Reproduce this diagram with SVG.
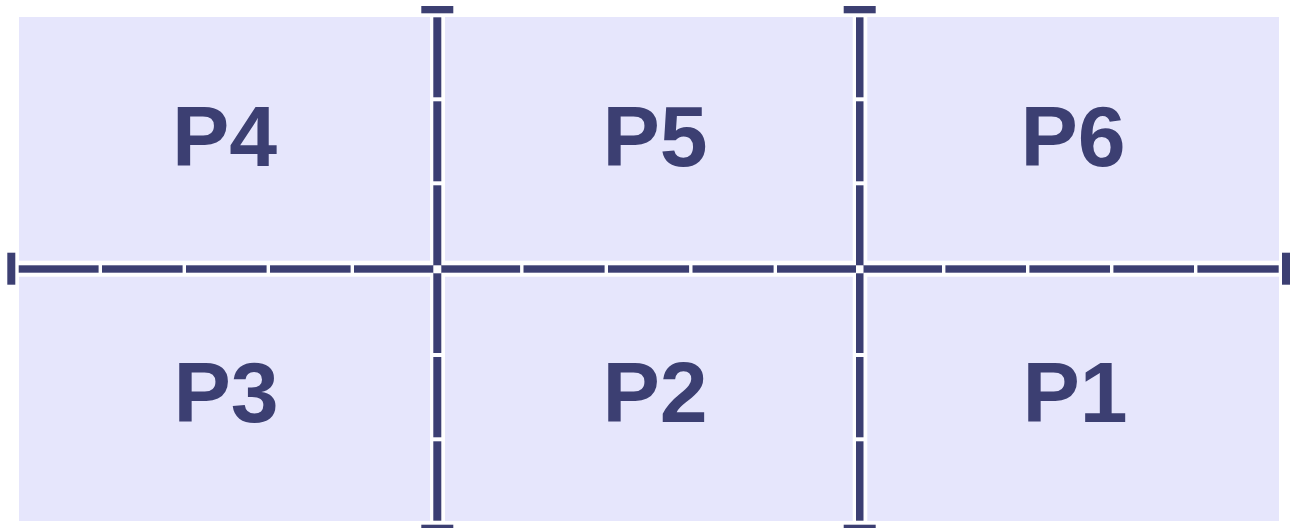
<svg xmlns="http://www.w3.org/2000/svg" width="1291" height="528" viewBox="0 0 1291 528">
<style>
.panel{fill:#E6E6FC}
.lbl{font-family:"Liberation Sans",Arial,sans-serif;font-weight:bold;font-size:86px;fill:#3C3F72;text-anchor:middle}
.ln{fill:#3C3F72}
.gap{fill:#FFFFFF}
</style>
<rect width="1291" height="528" fill="#FFFFFF"/>
<g id="P4"><rect class="panel" x="19" y="17" width="411" height="243.7"/><text class="lbl" x="224.5" y="166">P4</text></g>
<g id="P5"><rect class="panel" x="445" y="17" width="407.7" height="243.7"/><text class="lbl" x="655" y="166">P5</text></g>
<g id="P6"><rect class="panel" x="867.3" y="17" width="411.7" height="243.7"/><text class="lbl" x="1073" y="166">P6</text></g>
<g id="P3"><rect class="panel" x="19" y="276.7" width="411" height="244.3"/><text class="lbl" x="226" y="422">P3</text></g>
<g id="P2"><rect class="panel" x="445" y="276.7" width="407.7" height="244.3"/><text class="lbl" x="655" y="422">P2</text></g>
<g id="P1"><rect class="panel" x="867.3" y="276.7" width="411.7" height="244.3"/><text class="lbl" x="1075" y="422">P1</text></g>
<g id="connectors">
<rect class="ln" x="18.7" y="265.3" width="1260" height="7.4"/>
<rect class="ln" x="433.3" y="17.3" width="8" height="503.4"/>
<rect class="ln" x="856" y="17.3" width="7.5" height="503.4"/>
<rect class="ln" x="421.3" y="6" width="32" height="7.3"/>
<rect class="ln" x="843.7" y="6" width="32" height="7.3"/>
<rect class="ln" x="421.3" y="524.7" width="32" height="7.3"/>
<rect class="ln" x="843.7" y="524.7" width="32" height="7.3"/>
<rect class="ln" x="7.3" y="252.7" width="8" height="32"/>
<rect class="ln" x="1282" y="252.7" width="8" height="32"/>
<g class="gap">
<rect x="98.6" y="264" width="3.4" height="10"/>
<rect x="182.6" y="264" width="3.4" height="10"/>
<rect x="266.6" y="264" width="3.4" height="10"/>
<rect x="350.6" y="264" width="3.4" height="10"/>
<rect x="520.1" y="264" width="3.4" height="10"/>
<rect x="604.6" y="264" width="3.4" height="10"/>
<rect x="689.1" y="264" width="3.4" height="10"/>
<rect x="773.6" y="264" width="3.4" height="10"/>
<rect x="942" y="264" width="3.4" height="10"/>
<rect x="1026" y="264" width="3.4" height="10"/>
<rect x="1110" y="264" width="3.4" height="10"/>
<rect x="1194" y="264" width="3.4" height="10"/>
<rect x="433.3" y="265.3" width="8" height="8"/>
<rect x="856" y="265.3" width="7.5" height="8"/>
<rect x="432" y="97.3" width="11" height="4"/>
<rect x="432" y="181.3" width="11" height="4"/>
<rect x="432" y="353" width="11" height="4"/>
<rect x="432" y="437.3" width="11" height="4"/>
<rect x="854.5" y="97.3" width="11" height="4"/>
<rect x="854.5" y="181.3" width="11" height="4"/>
<rect x="854.5" y="353" width="11" height="4"/>
<rect x="854.5" y="437.3" width="11" height="4"/>
</g>
</g>
</svg>
